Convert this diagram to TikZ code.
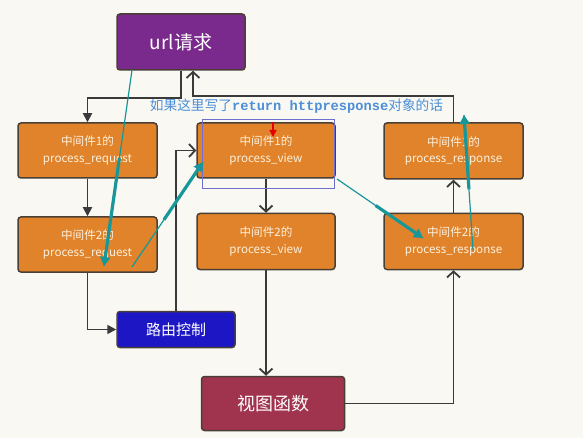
\documentclass[tikz,border=0pt]{standalone}
\usepackage{fontspec}
\setmainfont{Noto Sans CJK SC}
\setmonofont{Liberation Mono}
\usetikzlibrary{arrows.meta,calc}
\definecolor{bg}{HTML}{FAF8F3}
\definecolor{orng}{HTML}{E0832A}
\definecolor{bord}{HTML}{4A3F35}
\definecolor{purp}{HTML}{7A2A8C}
\definecolor{rblue}{HTML}{1C16C4}
\definecolor{crim}{HTML}{A0344F}
\definecolor{tealc}{HTML}{17979A}
\definecolor{boxtxt}{HTML}{FDF1DE}
\definecolor{annot}{HTML}{4A8FD8}
\definecolor{conncol}{HTML}{3A3A3A}
\definecolor{rectc}{HTML}{6F6FD0}
\tikzset{
  box/.style={draw=bord, line width=1.5pt, rounded corners=3pt, fill=orng, text=boxtxt,
    minimum width=139pt, minimum height=55pt, align=center, inner sep=0pt,
    font=\fontsize{11.6}{16.5}\selectfont},
  bigbox/.style={draw=bord, line width=1.5pt, rounded corners=3pt, text=white,
    inner sep=0pt, align=center},
  conn/.style={draw=conncol, line width=1.8pt},
  openarr/.style={-{Straight Barb[length=6pt,width=13pt,line width=1.8pt]}},
  fillarr/.style={-{Triangle[length=9pt,width=9pt]}},
  tthin/.style={draw=tealc, line width=1.2pt},
  tthick/.style={draw=tealc, line width=3.2pt, -{Triangle[length=9pt,width=10pt]}},
}
\begin{document}
\begin{tikzpicture}[x=1pt,y=-1pt]
\fill[bg] (0,0) rectangle (583,438);
\useasboundingbox (0,0) rectangle (583,438);

\node[bigbox, fill=purp, minimum width=128pt, minimum height=56pt,
  font=\fontsize{19}{22}\selectfont] (url) at (181,42) {url请求};
\node[box] (req1) at (87.5,150.5) {中间件1的\\process\_request};
\node[box] (req2) at (87.5,244.5) {中间件2的\\process\_request};
\node[bigbox, fill=rblue, minimum width=118pt, minimum height=36pt,
  font=\fontsize{15}{18}\selectfont] (route) at (176,329.5) {路由控制};
\node[box, minimum width=138pt] (view1) at (266,150.5) {中间件1的\\process\_view};
\node[box, minimum width=138pt, minimum height=56pt] (view2) at (266,241.5) {中间件2的\\process\_view};
\node[bigbox, fill=crim, minimum width=143pt, minimum height=54pt,
  font=\fontsize{18}{22}\selectfont] (func) at (273,403.5) {视图函数};
\node[box, minimum height=56pt] (resp1) at (453.5,151) {中间件1的\\process\_response};
\node[box, minimum height=56pt] (resp2) at (453.5,241.5) {中间件2的\\process\_response};

\node[text=annot, inner sep=0pt, font=\fontsize{13.7}{16}\selectfont] (note) at (296.5,106)
  {如果这里写了\texttt{\bfseries return httpresponse}对象的话};

% connectors
\coordinate (urlin) at ($(url.south)+(12,0)$);
\draw[conn, fillarr] (url.south) -- ++(0,27) -| (req1.north);
\draw[conn, fillarr] (req1.south) -- (req2.north);
\draw[conn, fillarr] (req2.south) |- (route.west);
\draw[conn, openarr] (route.north) |- (view1.west);
\draw[conn, openarr] (view1.south) -- (view2.north);
\draw[conn, openarr] (view2.south) -- (view2.south |- func.north);
\draw[conn, openarr] (func.east) -| (resp2.south);
\draw[conn, openarr] (resp2.north) -- (resp1.south);
\draw[conn, openarr] (resp1.north) -- ++(0,-26) -| (urlin);

% highlight rectangle and red arrow
\coordinate (ra) at (202,119);
\coordinate (rb) at (334,188);
\draw[rectc, line width=0.9pt] (ra) rectangle (rb);
\coordinate (reds) at (273,122);
\coordinate (rede) at (273,137);
\draw[red!90!black, line width=1.4pt, -{Triangle[length=7pt,width=7pt]}] (reds) -- (rede);

% teal annotation arrows
\coordinate (t1s) at (132,70);  \coordinate (t1e) at (104,266);
\coordinate (t2s) at (132,267); \coordinate (t2e) at (203,162);
\coordinate (t3s) at (337,179); \coordinate (t3e) at (423,238);
\coordinate (t4s) at (473,250); \coordinate (t4e) at (464,115);
\foreach \s/\e in {t1s/t1e, t2s/t2e, t3s/t3e, t4s/t4e} {
  \draw[tthin] (\s) -- (\e);
  \draw[tthick] ($(\s)!0.45!(\e)$) -- (\e);
}
\end{tikzpicture}
\end{document}
